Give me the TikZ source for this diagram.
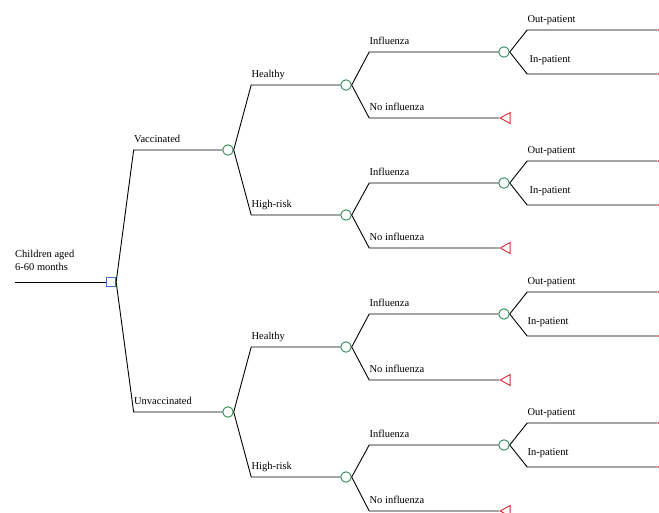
\documentclass[tikz,border=0pt]{standalone}
\usepackage{fontspec}
\setmainfont{Liberation Serif}
\usetikzlibrary{shapes.geometric}
\definecolor{vert}{RGB}{46,139,87}
\definecolor{bleu}{RGB}{68,114,196}
\definecolor{rouge}{RGB}{220,40,50}
\begin{document}
\begin{tikzpicture}[x=1pt,y=1pt]
	% Styles (MODIFIABLES)
	\tikzstyle{fleche}=[-,line width=0.9pt,black]
	\tikzstyle{decision}=[rectangle,draw=bleu,line width=0.8pt,minimum size=9.5pt,inner sep=0pt]
	\tikzstyle{hasard}=[circle,draw=vert,line width=0.9pt,minimum size=10.5pt,inner sep=0pt]
	\tikzstyle{feuille}=[isosceles triangle,isosceles triangle stretches,shape border rotate=180,draw=rouge,line width=0.9pt,minimum width=11pt,minimum height=10pt,inner sep=0pt,anchor=apex]
	\tikzstyle{etiquette}=[anchor=base west,yshift=8pt,inner sep=0pt,font=\fontsize{10.5}{13}\selectfont]
	\tikzstyle{commentaire}=[anchor=south west,align=left,inner sep=0pt,font=\fontsize{10.5}{13}\selectfont]
	% Dimensions (MODIFIABLES)
	\def\DistanceInterFeuilles{1}
	\def\Coude{17.5pt}
	\def\NiveauA{111}
	\def\NiveauB{228}
	\def\NiveauC{346}
	\def\NiveauD{504}
	\def\NiveauE{657}
	\def\InterFeuilles{(-1)*\DistanceInterFeuilles}
	% Cadre
	\useasboundingbox (0,0) rectangle (659,{(512)*\InterFeuilles});
	\clip (0,0) rectangle (659,{(512)*\InterFeuilles});
	% Noeuds
	\coordinate (depart) at ({15},{(282)*\InterFeuilles});
	\node[commentaire] (titre) at ([yshift=11pt]depart) {Children aged\\6-60 months};
	\node[decision] (R) at ({\NiveauA},{(282)*\InterFeuilles}) {};
	\node[hasard] (Ra) at ({\NiveauB},{(150)*\InterFeuilles}) {};
	\node[hasard] (Raa) at ({\NiveauC},{(85)*\InterFeuilles}) {};
	\node[hasard] (Raaa) at ({\NiveauD},{(52)*\InterFeuilles}) {};
	\node[feuille] (Raaaa) at ({\NiveauE},{(30)*\InterFeuilles}) {};
	\node[feuille] (Raaab) at ({\NiveauE},{(74)*\InterFeuilles}) {};
	\node[feuille] (Raab) at ({\NiveauD-5},{(118)*\InterFeuilles}) {};
	\node[hasard] (Rab) at ({\NiveauC},{(215)*\InterFeuilles}) {};
	\node[hasard] (Raba) at ({\NiveauD},{(183)*\InterFeuilles}) {};
	\node[feuille] (Rabaa) at ({\NiveauE},{(161)*\InterFeuilles}) {};
	\node[feuille] (Rabab) at ({\NiveauE},{(205)*\InterFeuilles}) {};
	\node[feuille] (Rabb) at ({\NiveauD-5},{(248)*\InterFeuilles}) {};
	\node[hasard] (Rb) at ({\NiveauB},{(412)*\InterFeuilles}) {};
	\node[hasard] (Rba) at ({\NiveauC},{(347)*\InterFeuilles}) {};
	\node[hasard] (Rbaa) at ({\NiveauD},{(314)*\InterFeuilles}) {};
	\node[feuille] (Rbaaa) at ({\NiveauE},{(292)*\InterFeuilles}) {};
	\node[feuille] (Rbaab) at ({\NiveauE},{(336)*\InterFeuilles}) {};
	\node[feuille] (Rbab) at ({\NiveauD-5},{(380)*\InterFeuilles}) {};
	\node[hasard] (Rbb) at ({\NiveauC},{(477)*\InterFeuilles}) {};
	\node[hasard] (Rbba) at ({\NiveauD},{(445)*\InterFeuilles}) {};
	\node[feuille] (Rbbaa) at ({\NiveauE},{(423)*\InterFeuilles}) {};
	\node[feuille] (Rbbab) at ({\NiveauE},{(467)*\InterFeuilles}) {};
	\node[feuille] (Rbbb) at ({\NiveauD-5},{(511)*\InterFeuilles}) {};
	% Arcs
	\draw[fleche] (depart)--(R.west);
	\draw[fleche] (R.east)--([xshift=\Coude]R.east |- Ra.west) node[etiquette]{Vaccinated}--(Ra.west);
	\draw[fleche] (R.east)--([xshift=\Coude]R.east |- Rb.west) node[etiquette]{Unvaccinated}--(Rb.west);
	\draw[fleche] (Ra.east)--([xshift=\Coude]Ra.east |- Raa.west) node[etiquette]{Healthy}--(Raa.west);
	\draw[fleche] (Ra.east)--([xshift=\Coude]Ra.east |- Rab.west) node[etiquette]{High-risk}--(Rab.west);
	\draw[fleche] (Rb.east)--([xshift=\Coude]Rb.east |- Rba.west) node[etiquette]{Healthy}--(Rba.west);
	\draw[fleche] (Rb.east)--([xshift=\Coude]Rb.east |- Rbb.west) node[etiquette]{High-risk}--(Rbb.west);
	\draw[fleche] (Raa.east)--([xshift=\Coude]Raa.east |- Raaa.west) node[etiquette]{Influenza}--(Raaa.west);
	\draw[fleche] (Raa.east)--([xshift=\Coude]Raa.east |- Raab.apex) node[etiquette]{No influenza}--(Raab.apex);
	\draw[fleche] (Rab.east)--([xshift=\Coude]Rab.east |- Raba.west) node[etiquette]{Influenza}--(Raba.west);
	\draw[fleche] (Rab.east)--([xshift=\Coude]Rab.east |- Rabb.apex) node[etiquette]{No influenza}--(Rabb.apex);
	\draw[fleche] (Rba.east)--([xshift=\Coude]Rba.east |- Rbaa.west) node[etiquette]{Influenza}--(Rbaa.west);
	\draw[fleche] (Rba.east)--([xshift=\Coude]Rba.east |- Rbab.apex) node[etiquette]{No influenza}--(Rbab.apex);
	\draw[fleche] (Rbb.east)--([xshift=\Coude]Rbb.east |- Rbba.west) node[etiquette]{Influenza}--(Rbba.west);
	\draw[fleche] (Rbb.east)--([xshift=\Coude]Rbb.east |- Rbbb.apex) node[etiquette]{No influenza}--(Rbbb.apex);
	\draw[fleche] (Raaa.east)--([xshift=\Coude]Raaa.east |- Raaaa.apex) node[etiquette]{Out-patient}--(Raaaa.apex);
	\draw[fleche] (Raaa.east)--([xshift=\Coude]Raaa.east |- Raaab.apex) node[etiquette,xshift=2pt,yshift=4pt]{In-patient}--(Raaab.apex);
	\draw[fleche] (Raba.east)--([xshift=\Coude]Raba.east |- Rabaa.apex) node[etiquette]{Out-patient}--(Rabaa.apex);
	\draw[fleche] (Raba.east)--([xshift=\Coude]Raba.east |- Rabab.apex) node[etiquette,xshift=2pt,yshift=4pt]{In-patient}--(Rabab.apex);
	\draw[fleche] (Rbaa.east)--([xshift=\Coude]Rbaa.east |- Rbaaa.apex) node[etiquette]{Out-patient}--(Rbaaa.apex);
	\draw[fleche] (Rbaa.east)--([xshift=\Coude]Rbaa.east |- Rbaab.apex) node[etiquette,xshift=0pt,yshift=4pt]{In-patient}--(Rbaab.apex);
	\draw[fleche] (Rbba.east)--([xshift=\Coude]Rbba.east |- Rbbaa.apex) node[etiquette]{Out-patient}--(Rbbaa.apex);
	\draw[fleche] (Rbba.east)--([xshift=\Coude]Rbba.east |- Rbbab.apex) node[etiquette,xshift=0pt,yshift=4pt]{In-patient}--(Rbbab.apex);
\end{tikzpicture}
\end{document}
